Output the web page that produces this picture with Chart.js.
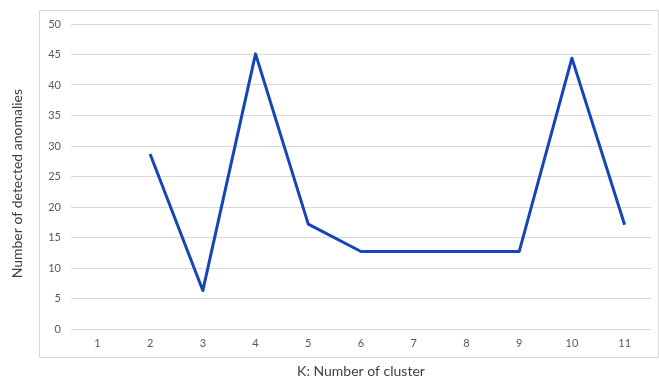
<!DOCTYPE html>
<html>
<head>
<meta charset="utf-8">
<script src="https://cdn.jsdelivr.net/npm/chart.js@4/dist/chart.umd.min.js"></script>
<style>
  html, body { margin: 0; padding: 0; background: #fff; }
  #wrap { width: 659px; height: 381px; position: relative; }
</style>
</head>
<body>
<div id="wrap"><canvas id="chart"></canvas></div>
<script>
// data
const clusters = ['1', '2', '3', '4', '5', '6', '7', '8', '9', '10', '11'];
const anomalies = [null, 28.7, 6.3, 45.1, 17.2, 12.7, 12.7, 12.7, 12.7, 44.4, 17.1];
const yTicks = [0, 5, 10, 15, 20, 25, 30, 35, 40, 45, 50];

const gridGray = '#d9d9d9';
const fontFamily = 'Lato, "Liberation Sans", sans-serif';

// light frame around the plot (like the Excel chart area border)
const framePlugin = {
  id: 'frame',
  beforeDraw(chart) {
    const { ctx, chartArea } = chart;
    ctx.save();
    ctx.strokeStyle = gridGray;
    ctx.lineWidth = 1;
    const l = Math.round(chartArea.left - 32) + 0.5;
    const t = Math.round(chartArea.top - 14) + 0.5;
    const r = Math.round(chartArea.right + 7) + 0.5;
    const b = Math.round(chartArea.bottom + 28) + 0.5;
    ctx.strokeRect(l, t, r - l, b - t);
    ctx.restore();
  }
};

const ctx = document.getElementById('chart').getContext('2d');
new Chart(ctx, {
  type: 'line',
  data: {
    labels: clusters,
    datasets: [{
      label: 'Number of detected anomalies',
      data: anomalies,
      borderColor: '#1446b8',
      backgroundColor: '#1446b8',
      borderWidth: 3,
      borderJoinStyle: 'round',
      borderCapStyle: 'butt',
      pointRadius: 0,
      pointHoverRadius: 0,
      tension: 0,
      fill: false
    }]
  },
  options: {
    responsive: true,
    maintainAspectRatio: false,
    animation: false,
    events: [],
    layout: { padding: { top: 24, right: 8, left: 0, bottom: 0 } },
    plugins: {
      legend: { display: false },
      tooltip: { enabled: false }
    },
    scales: {
      x: {
        offset: true,
        grid: { display: false, drawTicks: false },
        border: { display: false },
        ticks: {
          padding: 8,
          color: '#595959',
          font: { family: fontFamily, size: 11 },
          maxRotation: 0
        },
        title: {
          display: true,
          text: 'K: Number of cluster',
          color: '#404040',
          font: { family: fontFamily, size: 14 },
          padding: { top: 0, bottom: 1 }
        },
        afterFit(scale) { scale.height = 52; }
      },
      y: {
        min: 0,
        max: 50,
        afterBuildTicks(scale) {
          scale.ticks = yTicks.map(v => ({ value: v }));
        },
        grid: { color: gridGray, lineWidth: 1, drawTicks: false },
        border: { display: false },
        ticks: {
          padding: 10,
          color: '#595959',
          font: { family: fontFamily, size: 11 }
        },
        title: {
          display: true,
          // trailing spaces nudge the centred title a bit lower, as in the original
          text: 'Number of detected anomalies    ',
          color: '#404040',
          font: { family: fontFamily, size: 14 },
          padding: { top: 9, bottom: 0 }
        },
        afterFit(scale) { scale.width = 71; }
      }
    }
  },
  plugins: [framePlugin]
});
</script>
</body>
</html>
